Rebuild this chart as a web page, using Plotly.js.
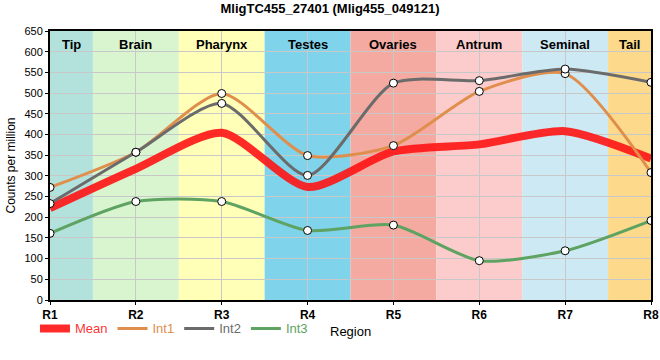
<!DOCTYPE html>
<html><head><meta charset="utf-8">
<script src="https://cdn.plot.ly/plotly-3.0.1.min.js"></script>
<style>body{margin:0;padding:0;background:#fff}#chart{width:660px;height:360px}</style>
</head><body><div id="chart"></div>
<script>
var categories = ['R1','R2','R3','R4','R5','R6','R7','R8'];
var regionNames = ['Tip','Brain','Pharynx','Testes','Ovaries','Antrum','Seminal','Tail'];
var regionColors = ['#b3e2dd','#d9f5d0','#ffffb8','#7fd3ea','#f4aaa0','#fccbcb','#cdeaf4','#fdd98b'];
var meanVals = [222, 317, 404, 273, 359, 376, 408, 342];
var int1Vals = [272, 357, 499, 349, 373, 504, 547, 308];
var int2Vals = [233, 357, 475, 301, 524, 530, 558, 526];
var int3Vals = [161, 238, 238, 168, 181, 95, 119, 192];

var xs = categories.map(function(c,i){return i;});
var SM = 0.7;
function lineTr(name, vals, color, width){
  return {
    x: xs, y: vals, type:'scatter', mode:'lines',
    name: '<span style="color:'+color+'">'+name+'</span>',
    line:{color:color, width:width, shape:'spline', smoothing:SM},
    hoverinfo:'skip'
  };
}
function markTr(vals){
  return {x: xs, y: vals, type:'scatter', mode:'markers', showlegend:false,
    marker:{symbol:'circle', size:8, color:'#ffffff', line:{color:'#000000', width:1}}, hoverinfo:'skip'};
}
var data = [
  lineTr('Mean', meanVals, 'rgba(255,20,20,0.9)', 8),
  lineTr('Int1', int1Vals, '#e08e4c', 3),
  lineTr('Int2', int2Vals, '#6b6b6b', 3),
  lineTr('Int3', int3Vals, '#5ea362', 3),
  markTr(int1Vals), markTr(int2Vals), markTr(int3Vals)
];

var shapes = regionNames.map(function(n,i){
  return {type:'rect', xref:'x', yref:'paper', x0:Math.max(i-0.5,0), x1:Math.min(i+0.5,7), y0:0, y1:1,
          fillcolor:regionColors[i], line:{width:0}, layer:'below'};
});
var annotations = regionNames.map(function(n,i){
  var xc = (Math.max(i-0.5,0)+Math.min(i+0.5,7))/2;
  return {xref:'x', yref:'paper', x:xc, y:0.985, yanchor:'top', text:'<b>'+n+'</b>', showarrow:false,
          font:{family:'Liberation Sans, Arial, sans-serif', size:13, color:'#000'}};
});
annotations.push({xref:'paper', yref:'paper', x:0.5, y:-0.118, yanchor:'middle', xanchor:'center',
  text:'Region', showarrow:false, font:{family:'Liberation Sans, Arial, sans-serif', size:13, color:'#000'}});

var layout = {
  width:660, height:360,
  margin:{l:50, r:9, t:31, b:60},
  paper_bgcolor:'#fff', plot_bgcolor:'#fff',
  title:{text:'<b>MligTC455_27401 (Mlig455_049121)</b>', x:0.5, xanchor:'center', y:0.988, yanchor:'top',
         font:{family:'Liberation Sans, Arial, sans-serif', size:13, color:'#000'}},
  font:{family:'Liberation Sans, Arial, sans-serif', size:11, color:'#000'},
  xaxis:{range:[0,7], tickvals:xs, ticktext:categories.map(function(c){return '<b>'+c+'</b>';}),
         tickfont:{size:12}, showgrid:true, gridcolor:'#c8c8c8', gridwidth:1,
         showline:true, linecolor:'#000', linewidth:2, mirror:true, ticks:'outside', ticklen:3, tickcolor:'#000',
         zeroline:false, layer:'above traces'},
  yaxis:{range:[0,650], dtick:50, showgrid:true, gridcolor:'#c8c8c8', gridwidth:1,
         showline:true, linecolor:'#000', linewidth:2, mirror:true, ticks:'outside', ticklen:3, tickcolor:'#000',
         zeroline:false, tickfont:{size:11},
         title:{text:'Counts per million', font:{size:12, color:'#000'}, standoff:6}},
  shapes:shapes, annotations:annotations,
  showlegend:true,
  legend:{orientation:'h', x:-0.025, xanchor:'left', y:-0.05, yanchor:'top', font:{size:13},
          bgcolor:'rgba(0,0,0,0)', itemwidth:30, tracegroupgap:0}
};
Plotly.newPlot('chart', data, layout, {staticPlot:true, displayModeBar:false});
</script></body></html>
